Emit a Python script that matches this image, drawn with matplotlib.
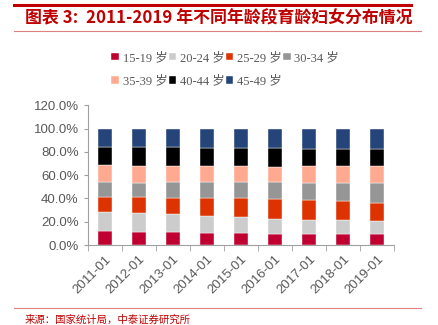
import numpy as np
import matplotlib.pyplot as plt
from matplotlib.lines import Line2D

plt.rcParams['font.family'] = ['Liberation Serif', 'Noto Sans CJK SC', 'DejaVu Sans']

# 数据（读图估计，单位 %）
years = ['2011-01', '2012-01', '2013-01', '2014-01', '2015-01',
         '2016-01', '2017-01', '2018-01', '2019-01']
groups = ['15-19 岁', '20-24 岁', '25-29 岁', '30-34 岁', '35-39 岁', '40-44 岁', '45-49 岁']
g15_19 = [11.7, 11.5, 10.9, 10.6, 10.0, 9.7, 9.7, 9.7, 9.7]
g20_24 = [16.4, 16.3, 15.7, 14.6, 13.8, 12.6, 11.8, 11.5, 11.2]
g25_29 = [13.4, 13.7, 14.1, 15.5, 16.9, 17.5, 17.5, 16.3, 15.5]
g30_34 = [12.4, 12.1, 13.2, 13.5, 13.5, 14.4, 14.6, 15.5, 16.9]
g35_39 = [14.6, 14.6, 14.0, 13.4, 13.4, 13.1, 14.0, 14.6, 14.6]
g40_44 = [16.0, 16.3, 16.6, 16.1, 16.1, 15.8, 14.9, 14.6, 14.3]
g45_49 = [15.5, 15.5, 15.5, 16.3, 16.3, 16.9, 17.5, 17.8, 17.8]
series = [g15_19, g20_24, g25_29, g30_34, g35_39, g40_44, g45_49]
colors = ['#C00030', '#CCCCCC', '#DD3300', '#969696', '#FFAA90', '#000000', '#25457A']

fig = plt.figure(figsize=(4.39, 3.25), dpi=100)

# 标题与分隔线
fig.add_artist(Line2D([0.032, 0.936], [0.984, 0.984], color='#C00000', lw=2.2))
fig.text(0.057, 0.942, '图表 3:  2011-2019 年不同年龄段育龄妇女分布情况',
         fontsize=12.2, fontweight='bold', color='#C00000', va='center',
         family=['Noto Sans CJK SC', 'DejaVu Sans'])
fig.add_artist(Line2D([0.032, 0.958], [0.905, 0.905], color='#E08080', lw=0.8))
fig.add_artist(Line2D([0.032, 0.958], [0.052, 0.052], color='#E08080', lw=0.8))
fig.text(0.057, 0.008, '来源：国家统计局，中泰证券研究所', fontsize=7.5, color='#C00000',
         family=['Noto Sans CJK SC', 'DejaVu Sans'])

ax = fig.add_axes([0.2, 0.246, 0.698, 0.43])
x = np.arange(len(years))
bottom = np.zeros(len(years))
handles = []
for vals, c, lab in zip(series, colors, groups):
    v = np.array(vals) / 100
    b = ax.bar(x, v, 0.4, bottom=bottom, color=c, label=lab,
               edgecolor='white', linewidth=0.3)
    bottom += v
    handles.append(b)

ax.set_ylim(0, 1.2)
ax.set_xlim(-0.5, len(years) - 0.5)
ax.set_yticks(np.arange(0, 1.21, 0.2))
ax.set_yticklabels(['%.1f%%' % (t * 100) for t in np.arange(0, 1.21, 0.2)],
                   family=['Liberation Sans'], fontsize=9.5, color='#595959')
ax.set_xticks(x)
ax.set_xticklabels(years, rotation=45, ha='right', rotation_mode='anchor',
                   family=['Liberation Sans'], fontsize=9.5, color='#595959')
ax.set_xticks(np.arange(-0.5, len(years)), minor=True)
ax.tick_params(axis='x', which='major', length=0, pad=6)
ax.tick_params(axis='x', which='minor', length=4, color='#A0A0A0')
ax.tick_params(axis='y', length=3, color='#A0A0A0')
for s in ['top', 'right']:
    ax.spines[s].set_visible(False)
for s in ['left', 'bottom']:
    ax.spines[s].set_color('#A0A0A0')

order = [0, 4, 1, 5, 2, 6, 3]
fig.legend([handles[i] for i in order], [groups[i] for i in order],
           ncol=4, loc='upper left', bbox_to_anchor=(0.228, 0.875),
           frameon=False, fontsize=9, handlelength=0.6, handleheight=0.6,
           handletextpad=0.3, columnspacing=0.1, labelspacing=0.9,
           labelcolor='#595959')

fig.savefig('out.png', dpi=100)
